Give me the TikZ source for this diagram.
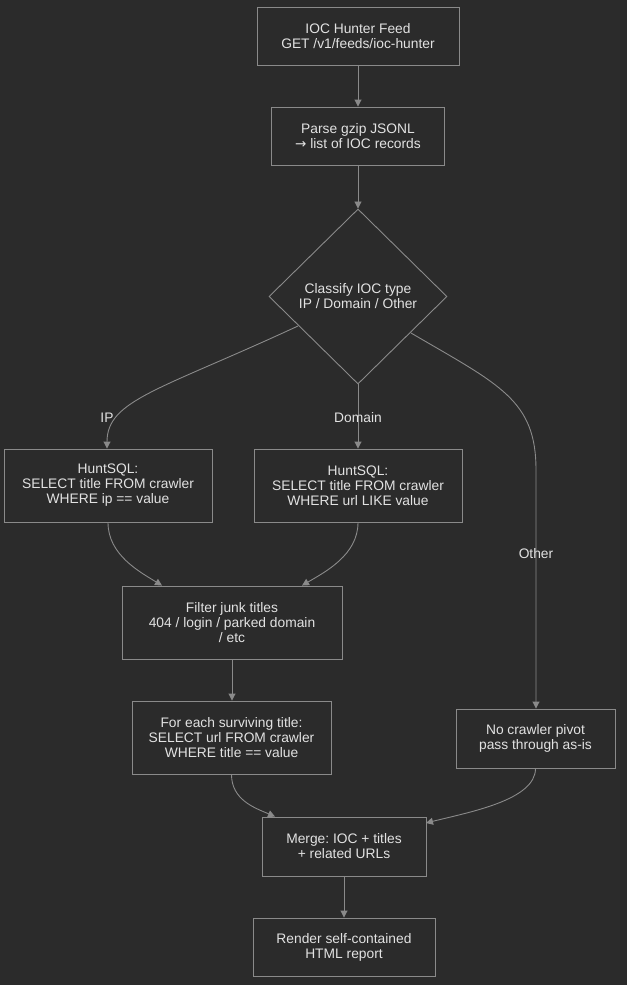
\documentclass[tikz,border=0pt]{standalone}
\usepackage{fontspec}
\setmainfont{Liberation Sans}
\newfontfamily\arrowfont{DejaVu Sans}
\usetikzlibrary{shapes.geometric,arrows.meta}
\definecolor{bgc}{HTML}{2B2B2B}
\definecolor{linec}{HTML}{8A8A8A}
\definecolor{textc}{HTML}{E2E2E2}
\tikzset{
  x=1pt,y=-1pt,
  every node/.style={font=\fontsize{13.8}{15}\selectfont, text=textc},
  stepbox/.style={draw=linec, fill=bgc, line width=0.9pt, rectangle, align=center, inner sep=0pt},
  decide/.style={draw=linec, fill=bgc, line width=0.9pt, diamond, aspect=1, align=center, inner sep=0pt, minimum width=178pt, minimum height=175pt},
  conn/.style={draw=linec, line width=0.9pt, -{Triangle[length=7pt,width=7pt]}},
  lbl/.style={inner sep=1pt}
}
\begin{document}
\frenchspacing
\begin{tikzpicture}
\useasboundingbox[fill=bgc] (0,0) rectangle (627,985);
\node[stepbox, minimum width=202pt, minimum height=58pt] (feed) at (358,36) {IOC Hunter Feed\\GET /v1/feeds/ioc-hunter};
\node[stepbox, minimum width=173pt, minimum height=58pt] (parse) at (358,136) {Parse gzip JSONL\\{\arrowfont\fontsize{13.5}{15}\selectfont\char"2192} list of IOC records};
\node[decide] (cls) at (358,296.5) {Classify IOC type\\IP / Domain / Other};
\node[stepbox, minimum width=208pt, minimum height=73pt] (ip) at (108,485.5) {HuntSQL:\\SELECT title FROM crawler\\WHERE ip == value};
\node[stepbox, minimum width=208pt, minimum height=73pt] (dom) at (358,485.5) {HuntSQL:\\SELECT title FROM crawler\\WHERE url LIKE value};
\node[stepbox, minimum width=220pt, minimum height=73pt] (filt) at (232,622.5) {Filter junk titles\\404 / login / parked domain\\/ etc};
\node[stepbox, minimum width=199pt, minimum height=73pt] (each) at (231.5,737.5) {For each surviving title:\\SELECT url FROM crawler\\WHERE title == value};
\node[stepbox, minimum width=159pt, minimum height=59pt] (none) at (535.5,738.5) {No crawler pivot\\pass through as-is};
\node[stepbox, minimum width=164pt, minimum height=59pt] (merge) at (344,846.5) {Merge: IOC + titles\\+ related URLs};
\node[stepbox, minimum width=182pt, minimum height=58pt] (rend) at (344,947) {Render self-contained\\HTML report};

\coordinate (ipout) at (298,326);
\coordinate (othout) at (411,333);

\draw[conn] (feed) -- (parse);
\draw[conn] (parse) -- (cls);
\draw[conn] (ipout) .. controls (160,390) and (107,400) .. (ip.north -| 107,0);
\draw[conn] (cls.south) -- (dom.north);
\draw[conn] (othout) .. controls (500,385) and (536,400) .. (536,470) -- (none.north -| 536,0);
\draw[conn] (ip.south) .. controls (108,555) and (140,572) .. (filt.north -| 162,0);
\draw[conn] (dom.south) .. controls (358,555) and (325,572) .. (filt.north -| 302,0);
\draw[conn] (filt.south -| 232,0) -- (each.north -| 232,0);
\draw[conn] (each.south) .. controls (231.5,800) and (255,808) .. (merge.north -| 275,0);
\draw[conn] (none.south) .. controls (535.5,800) and (470,812) .. (426,823);
\draw[conn] (merge) -- (rend);

\node[lbl] (lip) at (107,418) {IP};
\node[lbl] (ldom) at (358,418) {Domain};
\node[lbl] (loth) at (536,554) {Other};
\end{tikzpicture}
\end{document}
